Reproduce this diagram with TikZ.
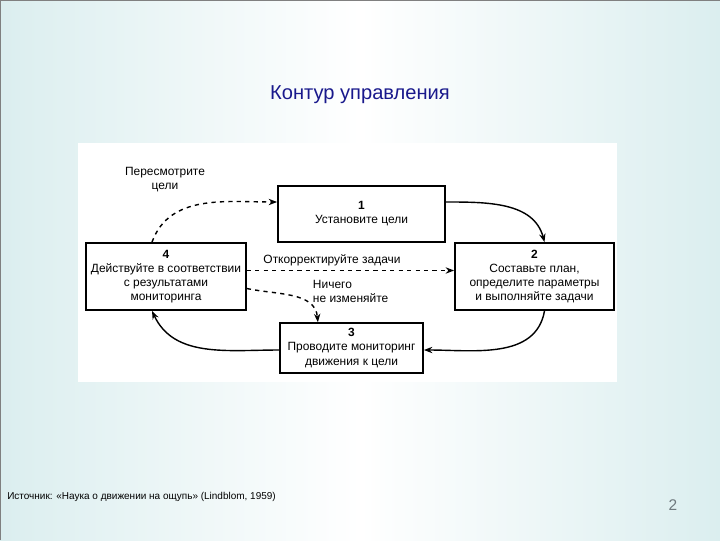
\documentclass[tikz,border=0pt]{standalone}
\usepackage{fontspec}
\setmainfont{Liberation Sans}
\usetikzlibrary{arrows.meta}
\definecolor{slidebg}{RGB}{219,238,239}
\definecolor{titleblue}{RGB}{25,25,140}
\definecolor{pagegray}{RGB}{110,120,125}
\tikzset{
  stagebox/.style={draw, line width=1.1pt, fill=white, align=center, inner sep=1pt,
    font=\fontsize{8.5}{10}\selectfont},
  note/.style={align=center, font=\fontsize{8.5}{10}\selectfont},
  flow/.style={-{Stealth[length=6pt,width=4.5pt]}, line width=1pt},
}
\begin{document}
\begin{tikzpicture}[x=0.025cm, y=-0.025cm]
		\useasboundingbox (0,0) rectangle (720,540);
		\shade[left color=slidebg, right color=slidebg, middle color=white] (0,0) rectangle (720,540);
		\draw[gray, line width=0.6pt] (0.3,540) -- (0.3,0.3) -- (720,0.3);
		\fill[white] (78,143) rectangle (617,382);
		
		\node (title) [font=\fontsize{14.3}{16}\selectfont, text=titleblue] at (360,95) {Контур управления};
		
		\node (b1) [stagebox, minimum width=4.18cm, minimum height=1.4cm] at (361.5,214) {\textbf{1}\\Установите цели};
		\node (b2) [stagebox, minimum width=3.98cm, minimum height=1.68cm] at (534.5,276.5) {\textbf{2}\\Составьте план,\\определите параметры\\и выполняйте задачи};
		\node (b3) [stagebox, minimum width=3.58cm, minimum height=1.25cm] at (351.5,348) {\textbf{3}\\Проводите мониторинг\\движения к цели};
		\node (b4) [stagebox, minimum width=4.0cm, minimum height=1.68cm] at (166,276.5) {\textbf{4}\\Действуйте в соответствии\\с результатами\\мониторинга};
		
		\node (revise) [note] at (165,180) {Пересмотрите\\цели};
		\node (adjust) [note] at (332,260) {Откорректируйте задачи};
		\node (keep) [note, align=left, anchor=west] at (308,291) {Ничего\\не изменяйте};
		
		\draw[flow] ([yshift=0.3cm]b1.east) to[out=0, in=105] ([xshift=0.25cm]b2.north);
		\draw[flow] ([xshift=0.25cm]b2.south) to[out=-100, in=0] ([yshift=-0.05cm]b3.east);
		\draw[flow] ([yshift=-0.05cm]b3.west) to[out=180, in=-65] ([xshift=-0.35cm]b4.south);
		\draw[flow, dashed] ([xshift=-0.35cm]b4.north) to[out=70, in=180] ([yshift=0.3cm]b1.west);
		\draw[flow, dashed] ([yshift=0.15cm]b4.east) -- ([yshift=0.15cm]b2.west);
		\draw[flow, dashed] ([yshift=-0.3cm]b4.east) to[out=-12, in=95] ([xshift=-0.84cm]b3.north);
		
		\node (source) [anchor=west, inner sep=0pt, font=\fontsize{7.1}{8}\selectfont] at (7,497) {Источник: «Наука о движении на ощупь» (Lindblom, 1959)};
		\node (page) [font=\fontsize{11}{13}\selectfont, text=pagegray] at (673,505) {2};
	\end{tikzpicture}
\end{document}
